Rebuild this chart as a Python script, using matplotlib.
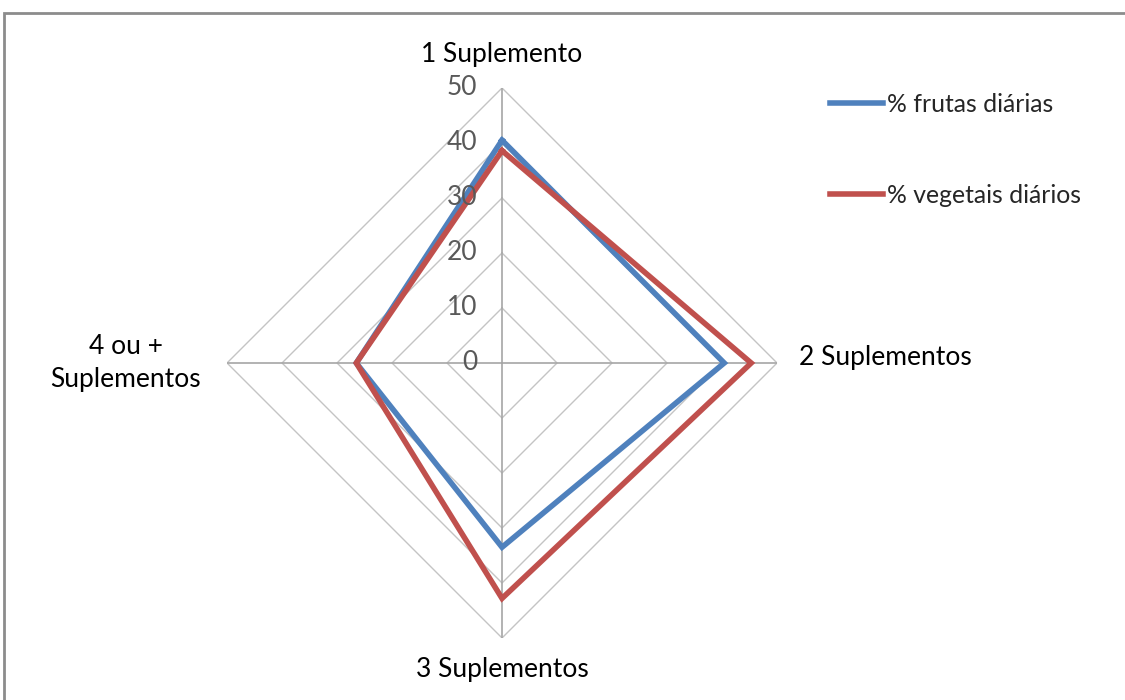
import numpy as np
import matplotlib
matplotlib.use("Agg")
import matplotlib.pyplot as plt
from matplotlib.patches import Rectangle

# data
categories = ["1 Suplemento", "2 Suplementos", "3 Suplementos", "4 ou +\nSuplementos"]
frutas = [40.5, 40.4, 33.5, 26.5]
vegetais = [38.6, 45.3, 42.8, 26.5]
series_names = ["% frutas diárias", "% vegetais diários"]
r_ticks = [0, 10, 20, 30, 40, 50]

plt.rcParams['font.family'] = ['Lato', 'DejaVu Sans']

fig = plt.figure(figsize=(11.25, 7), dpi=100)
fig.patch.set_facecolor("white")

# outer chart border
fig.patches.append(Rectangle((4 / 1125, -0.05), 1.1, 1 - 13 / 700 + 0.05,
                             transform=fig.transFigure, fill=False,
                             edgecolor="#8c8c8c", linewidth=2))

ax = fig.add_axes([0.2018, 0.0886, 0.4889, 0.7857], projection="polar")
ax.set_theta_offset(np.pi / 2)
ax.set_theta_direction(-1)
ax.set_ylim(0, 50)
ax.spines["polar"].set_visible(False)
ax.grid(False)
ax.set_xticks([])
ax.set_yticks([])
ax.patch.set_alpha(0)

n = len(categories)
angles = np.arange(n) * 2 * np.pi / n
closed = np.append(angles, angles[0])

# polygon grid
for r in r_ticks[1:]:
    ax.plot(closed, [r] * (n + 1), color="#c4c4c4", lw=1, zorder=1)
# spokes
for a in angles:
    ax.plot([a, a], [0, 50], color="#a6a6a6", lw=1.2, zorder=1)

colors = ["#4f81bd", "#c0504d"]
for vals, name, c in zip([frutas, vegetais], series_names, colors):
    ax.plot(closed, vals + vals[:1], color=c, lw=4, label=name, zorder=3,
            solid_joinstyle="miter")

fs = 19
# radial tick labels, left of the top spoke
for r in r_ticks:
    ax.annotate(str(r), xy=(0, r), xytext=(-18, 0), textcoords="offset points",
                ha="right", va="center", fontsize=fs, color="#595959")

# category labels
ax.annotate(categories[0], xy=(0, 50), xytext=(0, 24), textcoords="offset points",
            ha="center", va="center", fontsize=fs, color="black")
ax.annotate(categories[1], xy=(angles[1], 50), xytext=(16, 4), textcoords="offset points",
            ha="left", va="center", fontsize=fs, color="black")
ax.annotate(categories[2], xy=(angles[2], 50), xytext=(0, -23), textcoords="offset points",
            ha="center", va="center", fontsize=fs, color="black")
ax.annotate(categories[3], xy=(angles[3], 50), xytext=(-73, 0), textcoords="offset points",
            ha="center", va="center", fontsize=fs, color="black", linespacing=1.4)

leg = fig.legend(loc="upper left", bbox_to_anchor=(830 / 1125, 1 - 93 / 700),
                 frameon=False, fontsize=17.8, handlelength=2.15, handletextpad=0.16,
                 labelspacing=2.75, borderpad=0, borderaxespad=0)
for t in leg.get_texts():
    t.set_color("#262626")

fig.savefig("out.png", dpi=100, facecolor="white")
